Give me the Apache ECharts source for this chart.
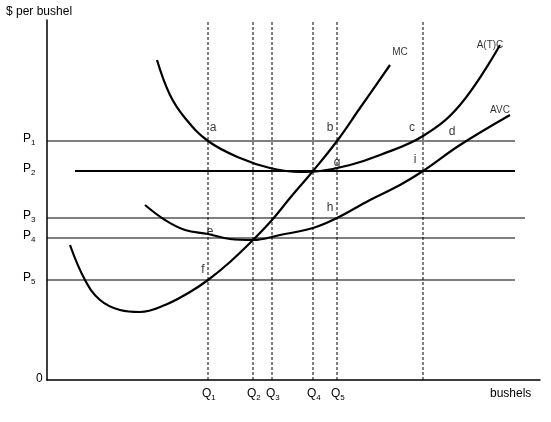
<!DOCTYPE html>
<html>
<head>
<meta charset="utf-8">
<script src="https://cdn.jsdelivr.net/npm/echarts@6/dist/echarts.min.js"></script>
<style>html,body{margin:0;background:#fff}#c{width:551px;height:422px}</style>
</head>
<body>
<div id="c"></div>
<script>
// quantities and prices (data units)
const qNames = ["Q1", "Q2", "Q3", "Q4", "Q5", ""];
const qValues = [161, 206, 225, 266, 290, 376];
const pNames = ["P1", "P2", "P3", "P4", "P5"];
const pValues = [239, 209, 162, 142, 100];
const pStart = [0, 28, 0, 0, 0];
const pEnd = [468, 468, 478, 468, 468];
// curves [q, $]
const mcCurve = [[23,135],[38,100],[53,80],[73,70],[93,68],[118,75],[143,88],[161,100],[183,118],[206,140],[225,160],[243,182],[266,209],[290,239],[313,272],[343,315]];
const atcCurve = [[110,320],[123,285],[138,262],[161,239],[193,222],[223,212],[253,208],[273,209],[303,215],[333,225],[376,244],[413,275],[453,335]];
const avcCurve = [[98,175],[118,160],[138,150],[161,146],[183,141],[206,140],[233,145],[266,152],[290,162],[323,180],[353,195],[376,209],[413,235],[463,265]];
// point letters
const pointLabels = ["a","b","c","d","e","f","g","h","i"];
const pointPos = [[166,252],[283,252],[365,252],[405,248],[163,148],[156,110],[290,217],[283,172],[368,220]];
const curveLabels = ["MC","A(T)C","AVC"];
const curvePos = [[353,328],[443,335],[453,270]];

const font = "Liberation Sans";
const series = [];
const line = (data, extra) => Object.assign({type:"line", data, symbol:"none", silent:true,
  lineStyle:{color:"#000", width:1.2}}, extra || {});

qValues.forEach(q => series.push(line([[q,0],[q,360]], {lineStyle:{color:"#000", width:1, type:[3,2]}})));
pValues.forEach((p,i) => series.push(line([[pStart[i],p],[pEnd[i],p]], {lineStyle:{color:"#000", width: i===1?2:1.2}})));
[mcCurve, atcCurve, avcCurve].forEach(c => series.push(line(c, {smooth:0.4, lineStyle:{color:"#000", width:2.2}})));
series.push({type:"scatter", symbolSize:0, silent:true,
  data: pointLabels.map((t,i)=>({value:pointPos[i], label:{show:true, formatter:t}})),
  label:{position:"inside", color:"#000", fontSize:12, fontFamily:font}});
series.push({type:"scatter", symbolSize:0, silent:true,
  data: curveLabels.map((t,i)=>({value:curvePos[i], label:{show:true, formatter:t}})),
  label:{position:"inside", color:"#000", fontSize:10, fontFamily:font}});

const chart = echarts.init(document.getElementById("c"));
chart.setOption({
  animation:false,
  backgroundColor:"#fff",
  grid:{left:47, right:11, top:20, bottom:42},
  xAxis:{type:"value", min:0, max:493, axisLine:{lineStyle:{color:"#000",width:1.5}}, axisTick:{show:false}, axisLabel:{show:false}, splitLine:{show:false}},
  yAxis:{type:"value", min:0, max:360, axisLine:{show:true, lineStyle:{color:"#000",width:1.5}}, axisTick:{show:false}, axisLabel:{show:false}, splitLine:{show:false}},
  series
});

const rich = {m:{fontSize:12,fontFamily:font,fill:"#000"}, s:{fontSize:8,fontFamily:font,fill:"#000",padding:[8,0,0,0]}};
const graphics = [
  {type:"text", left:6, top:6, style:{text:"$ per bushel", fontSize:12, fontFamily:font, fill:"#000"}},
  {type:"text", left:490, top:388, style:{text:"bushels", fontSize:12, fontFamily:font, fill:"#000"}},
  {type:"text", left:36, top:373, style:{text:"0", fontSize:12, fontFamily:font, fill:"#000"}}
];
qValues.forEach((q,i) => {
  if(!qNames[i]) return;
  const [x, y] = chart.convertToPixel({gridIndex:0}, [q, 0]);
  graphics.push({type:"text", x:x-6, y:y+6, style:{text:"{m|Q}{s|"+qNames[i].slice(1)+"}", rich}});
});
pValues.forEach((p,i) => {
  const [x, y] = chart.convertToPixel({gridIndex:0}, [0, p]);
  graphics.push({type:"text", x:x-24, y:y-10, style:{text:"{m|P}{s|"+pNames[i].slice(1)+"}", rich}});
});
chart.setOption({graphic: graphics});
</script>
</body>
</html>
